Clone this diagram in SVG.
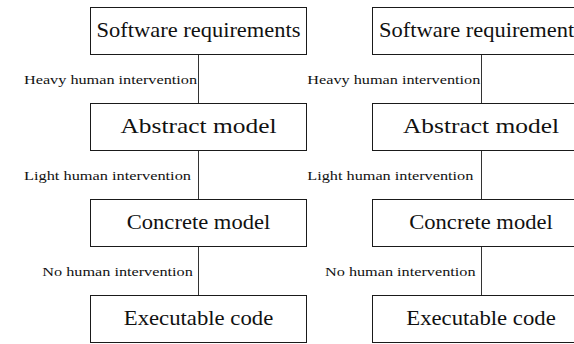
<svg xmlns="http://www.w3.org/2000/svg" width="574" height="344" viewBox="0 0 574 344">
  <style>
    .box { fill: #ffffff; stroke: #1a1a1a; stroke-width: 1; }
    .link { stroke: #333333; stroke-width: 1; fill: none; }
    .title { font-size: 21px; fill: #111111; text-anchor: middle; }
    .label { font-size: 13.5px; fill: #111111; }
  </style>
  <rect width="574" height="344" fill="#ffffff"/>

  <!-- connectors and their labels -->
  <g id="connectors">
    <line class="link" x1="198.5" y1="54.5" x2="198.5" y2="103.5"/>
    <line class="link" x1="198.5" y1="150.5" x2="198.5" y2="199.5"/>
    <line class="link" x1="198.5" y1="246.5" x2="198.5" y2="295.5"/>
    <line class="link" x1="481.5" y1="54.5" x2="481.5" y2="103.5"/>
    <line class="link" x1="481.5" y1="150.5" x2="481.5" y2="199.5"/>
    <line class="link" x1="481.5" y1="246.5" x2="481.5" y2="295.5"/>
    <text class="label" font-family="'Liberation Serif', serif" x="24" y="84" textLength="173" lengthAdjust="spacingAndGlyphs">Heavy human intervention</text>
    <text class="label" font-family="'Liberation Serif', serif" x="24" y="180" textLength="167" lengthAdjust="spacingAndGlyphs">Light human intervention</text>
    <text class="label" font-family="'Liberation Serif', serif" x="42.3" y="276" textLength="150.5" lengthAdjust="spacingAndGlyphs">No human intervention</text>
    <text class="label" font-family="'Liberation Serif', serif" x="307.3" y="84" textLength="173" lengthAdjust="spacingAndGlyphs">Heavy human intervention</text>
    <text class="label" font-family="'Liberation Serif', serif" x="307.3" y="180" textLength="166" lengthAdjust="spacingAndGlyphs">Light human intervention</text>
    <text class="label" font-family="'Liberation Serif', serif" x="325" y="276" textLength="150.5" lengthAdjust="spacingAndGlyphs">No human intervention</text>
  </g>

  <!-- left column -->
  <g id="req-left">
    <rect class="box" x="90.5" y="7.5" width="216" height="47"/>
    <text class="title" font-family="'Liberation Serif', serif" x="198.5" y="37" textLength="204" lengthAdjust="spacingAndGlyphs">Software requirements</text>
  </g>
  <g id="abstract-left">
    <rect class="box" x="90.5" y="103.5" width="216" height="47"/>
    <text class="title" font-family="'Liberation Serif', serif" x="198.5" y="133" textLength="156" lengthAdjust="spacingAndGlyphs">Abstract model</text>
  </g>
  <g id="concrete-left">
    <rect class="box" x="90.5" y="199.5" width="216" height="47"/>
    <text class="title" font-family="'Liberation Serif', serif" x="198.5" y="229" textLength="143.5" lengthAdjust="spacingAndGlyphs">Concrete model</text>
  </g>
  <g id="code-left">
    <rect class="box" x="90.5" y="295.5" width="216" height="47"/>
    <text class="title" font-family="'Liberation Serif', serif" x="198.5" y="325" textLength="149.5" lengthAdjust="spacingAndGlyphs">Executable code</text>
  </g>

  <!-- right column -->
  <g id="req-right">
    <rect class="box" x="372.5" y="7.5" width="216" height="47"/>
    <text class="title" font-family="'Liberation Serif', serif" x="481" y="37" textLength="204" lengthAdjust="spacingAndGlyphs">Software requirements</text>
  </g>
  <g id="abstract-right">
    <rect class="box" x="372.5" y="103.5" width="216" height="47"/>
    <text class="title" font-family="'Liberation Serif', serif" x="481" y="133" textLength="156" lengthAdjust="spacingAndGlyphs">Abstract model</text>
  </g>
  <g id="concrete-right">
    <rect class="box" x="372.5" y="199.5" width="216" height="47"/>
    <text class="title" font-family="'Liberation Serif', serif" x="481" y="229" textLength="143.5" lengthAdjust="spacingAndGlyphs">Concrete model</text>
  </g>
  <g id="code-right">
    <rect class="box" x="372.5" y="295.5" width="216" height="47"/>
    <text class="title" font-family="'Liberation Serif', serif" x="481" y="325" textLength="149.5" lengthAdjust="spacingAndGlyphs">Executable code</text>
  </g>
</svg>
